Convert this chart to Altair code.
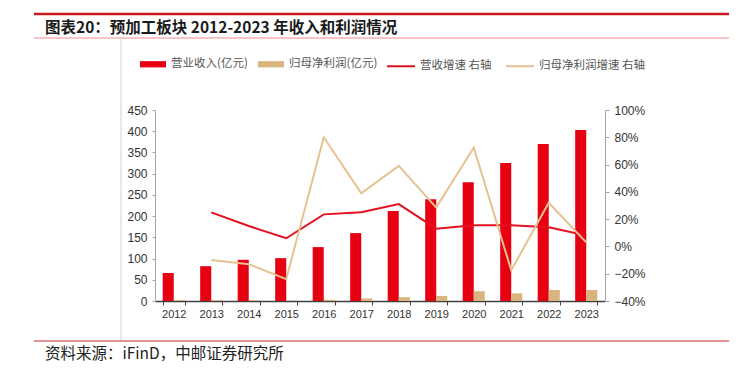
import altair as alt
import pandas as pd

years = ["2012", "2013", "2014", "2015", "2016", "2017", "2018", "2019", "2020", "2021", "2022", "2023"]
revenue = [66, 82, 97, 101, 127, 160, 212, 240, 280, 325, 370, 403]
profit = [2, 2, 2, 1, 3, 6, 9, 12, 23, 18, 26, 26]
rev_growth = [None, 0.25, 0.15, 0.06, 0.235, 0.25, 0.31, 0.13, 0.155, 0.155, 0.14, 0.08]
profit_growth = [None, -0.10, -0.13, -0.24, 0.80, 0.39, 0.59, 0.285, 0.725, -0.175, 0.32, 0.03]

bar_names = ["营业收入(亿元)", "归母净利润(亿元)"]
line_names = ["营收增速 右轴", "归母净利润增速 右轴"]
left_ticks = [0, 50, 100, 150, 200, 250, 300, 350, 400, 450]
right_ticks = [-0.4, -0.2, 0.0, 0.2, 0.4, 0.6, 0.8, 1.0]

title_text = "图表20：预加工板块 2012-2023 年收入和利润情况"
source_text = "资料来源：iFinD，中邮证券研究所"

RED = "#e60012"
TAN = "#dab47e"
LINE_RED = "#e3101f"
LINE_TAN = "#e5c28f"
CJK = "Noto Sans CJK SC"
LAT = "Liberation Sans"

bar_rows = []
for name, vals in zip(bar_names, [revenue, profit]):
    for y, v in zip(years, vals):
        bar_rows.append({"year": y, "series": name, "value": v})
bar_df = pd.DataFrame(bar_rows)

line_rows = []
for name, vals in zip(line_names, [rev_growth, profit_growth]):
    for y, v in zip(years, vals):
        if v is not None:
            line_rows.append({"year": y, "series": name, "growth": v})
line_df = pd.DataFrame(line_rows)

x_enc = alt.X(
    "year:N",
    sort=years,
    scale=alt.Scale(paddingInner=0.41, paddingOuter=0.205),
    axis=alt.Axis(
        title=None, labelAngle=0, tickBand="extent", domainColor="#404040",
        domainWidth=1.5, tickColor="#404040", tickSize=4, labelPadding=3,
        labelFont=LAT, labelFontSize=11, labelColor="#333333", grid=False,
    ),
)

bars = alt.Chart(bar_df).mark_bar().encode(
    x=x_enc,
    xOffset=alt.XOffset("series:N", sort=bar_names,
                        scale=alt.Scale(domain=bar_names, paddingInner=0, paddingOuter=0)),
    y=alt.Y(
        "value:Q",
        scale=alt.Scale(domain=[0, 450], nice=False),
        axis=alt.Axis(
            orient="left", title=None, values=left_ticks, grid=False,
            domainColor="#a6a6a6", tickColor="#a6a6a6", tickSize=3, labelPadding=5,
            labelFont=LAT, labelFontSize=12, labelColor="#333333",
        ),
    ),
    color=alt.Color(
        "series:N", sort=bar_names,
        scale=alt.Scale(domain=bar_names, range=[RED, TAN]),
        legend=alt.Legend(
            orient="none", legendX=-15, legendY=-59, direction="horizontal", title=None,
            symbolType="M-1,-0.24H1V0.24H-1Z", symbolSize=676, symbolStrokeWidth=0,
            labelFont=CJK, labelFontSize=11.5, labelColor="#555555", labelOffset=5,
            columnPadding=10, padding=0,
        ),
    ),
)

lines = alt.Chart(line_df).mark_line(strokeWidth=2).encode(
    x=x_enc,
    y=alt.Y(
        "growth:Q",
        scale=alt.Scale(domain=[-0.4, 1.0], nice=False, zero=False),
        axis=alt.Axis(
            orient="right", title=None, values=right_ticks, format=".0%", grid=False,
            domainColor="#a6a6a6", tickColor="#a6a6a6", tickSize=4, labelPadding=5,
            labelFont=LAT, labelFontSize=12, labelColor="#333333",
        ),
    ),
    stroke=alt.Stroke(
        "series:N", sort=line_names,
        scale=alt.Scale(domain=line_names, range=[LINE_RED, LINE_TAN]),
        legend=alt.Legend(
            orient="none", legendX=231, legendY=-59, direction="horizontal", title=None,
            symbolType="stroke", symbolSize=784, symbolStrokeWidth=2,
            labelFont=CJK, labelFontSize=11.5, labelColor="#555555", labelOffset=4,
            columnPadding=10, padding=0,
        ),
    ),
)

one = pd.DataFrame({"a": [1]})

top_rule = alt.Chart(one).mark_rule(color="#c8161d", strokeWidth=2.5).encode(
    x=alt.value(-121), x2=alt.value(574), y=alt.value(-96))
sub_rule = alt.Chart(one).mark_rule(color="#f08c8c", strokeWidth=1).encode(
    x=alt.value(-121), x2=alt.value(574), y=alt.value(-72))
foot_rule = alt.Chart(one).mark_rule(color="#c0282d", strokeWidth=1).encode(
    x=alt.value(-121), x2=alt.value(574), y=alt.value(231))
side_rule = alt.Chart(one).mark_rule(color="#d0d0d0", strokeWidth=1).encode(
    x=alt.value(-34), y=alt.value(-72), y2=alt.value(230))

title_mark = alt.Chart(one).mark_text(
    align="left", baseline="alphabetic", font=CJK, fontSize=15.5, fontWeight="bold",
    color="#1a1a1a",
).encode(x=alt.value(-110), y=alt.value(-77), text=alt.value(title_text))

source_mark = alt.Chart(one).mark_text(
    align="left", baseline="alphabetic", font=CJK, fontSize=15.5, color="#222222",
).encode(x=alt.value(-110), y=alt.value(249), text=alt.value(source_text))

chart = alt.layer(
    bars, lines, top_rule, sub_rule, foot_rule, side_rule, title_mark, source_mark
).resolve_scale(
    y="independent", color="independent", stroke="independent"
).properties(
    width=450, height=191,
    autosize=alt.AutoSizeParams(type="none"),
    padding={"left": 147, "top": 102, "right": 130, "bottom": 62},
    background="white",
).configure_view(strokeWidth=0)

chart.save("out.html", embed_options={"renderer": "svg", "actions": False})
